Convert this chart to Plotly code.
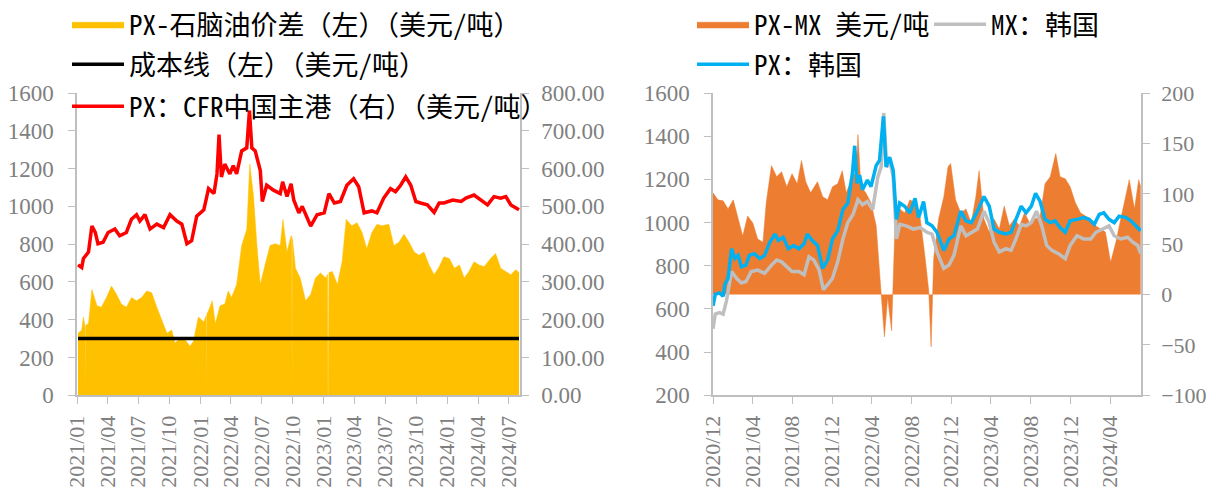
import plotly.graph_objects as go

# ---------------- Left panel data ----------------
spread_dates = ["2021-01-04","2021-01-15","2021-01-20","2021-01-25","2021-01-26","2021-01-27","2021-02-04","2021-02-14",
 "2021-03-01","2021-03-14","2021-03-29","2021-04-13","2021-04-28","2021-05-12","2021-05-27","2021-06-11","2021-06-26",
 "2021-07-11","2021-07-26","2021-08-10","2021-08-25","2021-09-09","2021-09-24","2021-10-08","2021-10-18","2021-11-02",
 "2021-11-17","2021-12-01","2021-12-11","2021-12-26","2022-01-11","2022-01-18","2022-01-19","2022-01-20","2022-01-25",
 "2022-02-05","2022-02-14","2022-02-28","2022-03-14","2022-03-24","2022-04-03","2022-04-18","2022-05-03","2022-05-18",
 "2022-05-27","2022-06-07","2022-06-17","2022-06-27","2022-07-11","2022-07-26","2022-08-10","2022-08-25","2022-09-02",
 "2022-09-14","2022-09-26","2022-09-28","2022-09-29","2022-09-30","2022-10-09","2022-10-23","2022-11-08","2022-11-23",
 "2022-12-07","2022-12-22","2023-01-07","2023-01-12","2023-01-13","2023-01-14","2023-01-16","2023-01-26","2023-02-10",
 "2023-02-24","2023-03-08","2023-03-25","2023-04-09","2023-04-24","2023-05-08","2023-05-23","2023-06-07","2023-06-22",
 "2023-07-12","2023-07-27","2023-08-11","2023-08-26","2023-09-10","2023-09-25","2023-10-09","2023-10-24","2023-11-08",
 "2023-11-23","2023-12-08","2023-12-22","2024-01-07","2024-01-22","2024-02-06","2024-02-20","2024-03-05","2024-03-20",
 "2024-04-04","2024-04-19","2024-05-08","2024-05-23","2024-06-07","2024-06-22","2024-07-07","2024-07-21","2024-07-31"]
spread_values = [328,345,414,360,0,370,380,560,
 474,466,517,578,534,483,466,517,500,
 517,552,543,466,397,328,345,276,302,
 293,259,284,414,388,420,0,430,448,
 500,379,474,483,552,517,586,793,879,
 1224,1052,793,586,690,793,802,793,931,
 759,845,840,0,830,672,621,500,534,
 621,647,621,640,0,0,650,655,586,
 707,931,897,914,862,776,862,905,897,
 905,793,810,853,810,759,741,759,690,
 638,681,733,724,672,690,621,655,707,
 690,681,724,750,672,655,638,664,650]

px_cfr_dates = ["2021-01-04","2021-01-15","2021-01-20","2021-02-04","2021-02-14","2021-02-24","2021-03-04","2021-03-19",
 "2021-04-03","2021-04-23","2021-05-07","2021-05-27","2021-06-11","2021-06-26","2021-07-06","2021-07-21","2021-08-05",
 "2021-08-25","2021-09-14","2021-10-03","2021-10-23","2021-11-07","2021-11-22","2021-12-06","2021-12-21","2022-01-11",
 "2022-01-25","2022-02-10","2022-02-19","2022-02-25","2022-03-04","2022-03-14","2022-03-29","2022-04-08","2022-04-18",
 "2022-05-03","2022-05-18","2022-05-26","2022-06-02","2022-06-12","2022-06-27","2022-07-03","2022-07-16","2022-08-05",
 "2022-08-25","2022-09-01","2022-09-14","2022-09-26","2022-10-04","2022-10-19","2022-10-29","2022-11-23","2022-12-12",
 "2023-01-02","2023-01-16","2023-02-01","2023-02-19","2023-03-10","2023-03-30","2023-04-14","2023-04-30","2023-05-23",
 "2023-06-07","2023-06-27","2023-07-17","2023-08-01","2023-08-16","2023-08-31","2023-09-15","2023-09-30","2023-10-14",
 "2023-11-03","2023-11-23","2023-12-08","2023-12-22","2024-01-17","2024-02-11","2024-02-25","2024-03-20","2024-04-09",
 "2024-04-29","2024-05-18","2024-06-07","2024-06-22","2024-07-07","2024-07-31"]
px_cfr_values = [345,338,362,379,448,431,401,405,
 431,440,422,431,466,478,461,478,440,
 453,444,478,461,453,401,409,474,491,
 547,534,586,690,578,612,586,608,586,
 647,655,754,655,647,595,513,556,543,
 534,565,526,560,517,483,500,448,478,
 483,534,509,513,556,573,552,483,488,
 483,522,547,539,556,578,556,513,509,
 504,484,509,509,517,513,522,530,517,
 504,526,522,526,504,491]

cost_dates = ["2021-01-04", "2024-07-31"]
cost_values = [300, 300]

# ---------------- Right panel data ----------------
px_kr_dates = ["2020-12-01","2020-12-08","2020-12-21","2021-01-01","2021-01-06","2021-01-16","2021-01-27","2021-02-06",
 "2021-02-16","2021-02-26","2021-03-12","2021-03-22","2021-04-07","2021-04-23","2021-05-08","2021-05-24","2021-06-09",
 "2021-06-19","2021-07-04","2021-07-20","2021-08-05","2021-08-21","2021-09-06","2021-09-16","2021-10-01","2021-10-17",
 "2021-11-02","2021-11-17","2021-12-02","2021-12-18","2022-01-03","2022-01-18","2022-02-01","2022-02-08","2022-02-15",
 "2022-02-23","2022-03-04","2022-03-19","2022-03-30","2022-04-15","2022-04-25","2022-05-07","2022-05-15","2022-05-26",
 "2022-06-06","2022-06-16","2022-06-26","2022-07-11","2022-07-27","2022-08-12","2022-08-23","2022-09-07","2022-09-17",
 "2022-10-03","2022-10-18","2022-11-08","2022-11-24","2022-12-09","2022-12-30","2023-01-15","2023-01-31","2023-02-19",
 "2023-03-11","2023-03-27","2023-04-11","2023-04-27","2023-05-17","2023-06-02","2023-06-17","2023-07-03","2023-07-18",
 "2023-08-03","2023-08-16","2023-08-30","2023-09-14","2023-09-30","2023-10-15","2023-10-30","2023-11-15","2023-11-30",
 "2023-12-21","2024-01-11","2024-01-27","2024-02-12","2024-02-27","2024-03-12","2024-03-28","2024-04-13","2024-04-28",
 "2024-05-19","2024-06-03","2024-06-19","2024-07-03"]
px_kr_values = [614,667,674,659,712,742,879,833,
 848,795,803,848,856,833,848,909,947,
 917,932,879,894,879,902,947,917,894,
 788,826,924,962,1061,1091,1227,1356,1182,
 1220,1152,1197,1167,1265,1288,1492,1258,1303,
 1242,1015,1091,1076,1045,1112,1023,1098,1000,
 985,955,871,924,939,1053,1008,1000,1053,
 1121,1076,970,955,947,955,1015,1076,1045,
 1076,1136,1098,1015,1000,1008,977,955,1008,
 1015,1023,1015,992,1038,1045,1015,1000,1030,
 1023,1008,985,962]

mx_kr_dates = ["2020-12-01","2020-12-08","2020-12-21","2021-01-01","2021-01-11","2021-01-27","2021-02-11","2021-02-26",
 "2021-03-12","2021-03-28","2021-04-17","2021-05-08","2021-05-29","2021-06-14","2021-06-29","2021-07-15","2021-07-31",
 "2021-08-21","2021-09-06","2021-09-21","2021-10-06","2021-10-22","2021-11-04","2021-11-17","2021-12-02","2021-12-18",
 "2022-01-03","2022-01-18","2022-02-03","2022-02-18","2022-03-04","2022-03-19","2022-04-04","2022-04-20","2022-04-30",
 "2022-05-08","2022-05-17","2022-05-28","2022-06-06","2022-06-16","2022-06-26","2022-07-16","2022-08-07","2022-08-28",
 "2022-09-17","2022-10-03","2022-10-18","2022-11-08","2022-11-24","2022-12-09","2022-12-30","2023-01-15","2023-01-31",
 "2023-02-19","2023-03-11","2023-03-27","2023-04-11","2023-04-27","2023-05-17","2023-06-02","2023-06-17","2023-07-03",
 "2023-07-18","2023-08-03","2023-08-19","2023-09-04","2023-09-19","2023-10-05","2023-10-25","2023-11-15","2023-11-30",
 "2023-12-21","2024-01-11","2024-02-01","2024-02-17","2024-03-07","2024-03-28","2024-04-13","2024-05-03","2024-05-24",
 "2024-06-09","2024-06-24","2024-07-03"]
mx_kr_values = [508,576,583,576,636,773,742,720,
 727,773,780,765,803,826,818,795,773,
 773,758,841,826,780,689,712,742,818,
 924,1000,1038,1106,1083,1098,1061,1212,1258,
 1508,1258,1280,1212,924,992,985,970,977,
 955,947,864,788,803,848,985,939,955,
 970,1053,1000,909,864,879,871,924,992,
 985,1000,1053,985,894,871,856,833,894,
 939,924,924,955,970,985,939,924,932,
 909,894,856]

pxmx_dates = ["2020-12-01","2020-12-16","2021-01-01","2021-01-16","2021-02-01","2021-02-16","2021-03-02","2021-03-17",
 "2021-04-02","2021-04-17","2021-05-03","2021-05-13","2021-05-29","2021-06-14","2021-06-29","2021-07-15","2021-07-31",
 "2021-08-16","2021-08-29","2021-09-11","2021-09-26","2021-10-17","2021-11-02","2021-11-17","2021-12-02","2021-12-18",
 "2022-01-01","2022-01-13","2022-01-29","2022-02-13","2022-02-18","2022-02-27","2022-03-14","2022-03-30","2022-04-15",
 "2022-04-25","2022-05-03","2022-05-10","2022-05-20","2022-06-01","2022-06-11","2022-06-26","2022-07-11","2022-07-27",
 "2022-08-12","2022-08-28","2022-09-12","2022-09-23","2022-09-30","2022-10-08","2022-10-23","2022-11-08","2022-11-21",
 "2022-11-29","2022-12-14","2022-12-30","2023-01-15","2023-01-31","2023-02-14","2023-02-24","2023-03-11","2023-03-27",
 "2023-04-11","2023-04-27","2023-05-12","2023-05-28","2023-06-12","2023-06-28","2023-07-13","2023-07-29","2023-08-14",
 "2023-08-30","2023-09-14","2023-09-30","2023-10-17","2023-10-30","2023-11-15","2023-11-30","2023-12-16","2024-01-01",
 "2024-01-16","2024-02-01","2024-02-17","2024-03-02","2024-03-17","2024-04-02","2024-04-18","2024-05-03","2024-05-19",
 "2024-05-29","2024-06-14","2024-06-27","2024-07-03"]
pxmx_values = [101,94,93,85,94,75,58,78,
 71,55,52,91,128,117,122,107,120,
 110,133,112,101,112,97,94,107,110,
 123,101,114,123,159,107,101,91,68,
 23,-16,-42,-3,-36,65,85,81,94,
 91,75,36,3,-52,36,75,97,127,
 130,94,81,85,71,97,123,75,62,
 75,65,88,68,75,68,81,71,75,
 78,110,117,140,117,115,107,91,81,
 78,75,68,65,62,32,52,75,97,
 114,85,114,107]

# ---------------- Styling ----------------
TICK_FONT = dict(family="Liberation Serif, Times New Roman, serif", size=23, color="#808080")
RTICK_FONT = dict(family="Liberation Serif, Times New Roman, serif", size=22, color="#808080")
XTICK_FONT = dict(family="Liberation Serif, Times New Roman, serif", size=22, color="#808080")
LEG_FONT = dict(family="Noto Sans Mono CJK SC, Noto Sans CJK SC, sans-serif", size=27, color="#000000")
AX_COLOR = "#BFBFBF"
W, H = 1210, 491

def px2x(p):
    return p / W

def px2y(p):
    return 1 - p / H

fig = go.Figure()

fig.add_trace(go.Scatter(x=spread_dates, y=spread_values, name="PX-石脑油价差（左）（美元/吨）",
                         mode="lines", fill="tozeroy", fillcolor="#FFC000",
                         line=dict(color="#FFC000", width=0.5), xaxis="x", yaxis="y", legend="legend"))
fig.add_trace(go.Scatter(x=cost_dates, y=cost_values, name="成本线（左）（美元/吨）",
                         mode="lines", line=dict(color="#000000", width=3.5),
                         xaxis="x", yaxis="y", legend="legend2"))
fig.add_trace(go.Scatter(x=px_cfr_dates, y=px_cfr_values, name="PX：CFR中国主港（右）（美元/吨）",
                         mode="lines", line=dict(color="#FF0000", width=3.5),
                         xaxis="x", yaxis="y2", legend="legend3"))

# right panel: area on the base (right-side) axis, lines on the overlaying left axis so they draw on top
fig.add_trace(go.Scatter(x=pxmx_dates, y=pxmx_values, name="PX-MX 美元/吨",
                         mode="lines", fill="tozeroy", fillcolor="#ED7D31",
                         line=dict(color="#ED7D31", width=0.5), xaxis="x2", yaxis="y3", legend="legend4"))
fig.add_trace(go.Scatter(x=mx_kr_dates, y=mx_kr_values, name="MX：韩国",
                         mode="lines", line=dict(color="#BFBFBF", width=3.5),
                         xaxis="x2", yaxis="y4", legend="legend5"))
fig.add_trace(go.Scatter(x=px_kr_dates, y=px_kr_values, name="PX：韩国",
                         mode="lines", line=dict(color="#00B0F0", width=3.5),
                         xaxis="x2", yaxis="y4", legend="legend6"))

ydom = [px2y(393), px2y(84)]
common_x = dict(type="date", tickformat="%Y/%m", tickangle=-90, ticks="outside", ticklen=7,
                tickcolor=AX_COLOR, showline=True, linecolor=AX_COLOR, linewidth=1.5,
                showgrid=False, zeroline=False, tickfont=XTICK_FONT, automargin=False,
                ticklabelstandoff=3)
common_y = dict(ticks="outside", ticklen=7, tickcolor=AX_COLOR, showline=True, linecolor=AX_COLOR,
                linewidth=1.5, showgrid=False, zeroline=False, automargin=False)

leg_common = dict(bgcolor="rgba(0,0,0,0)", font=LEG_FONT, xanchor="left", yanchor="middle",
                  itemwidth=52, orientation="v", tracegroupgap=0)

fig.update_layout(
    width=W, height=H,
    margin=dict(l=0, r=0, t=0, b=0),
    paper_bgcolor="white", plot_bgcolor="white",
    showlegend=True,
    xaxis=dict(domain=[px2x(77), px2x(520)], anchor="y",
               range=["2021-01-01", "2024-08-03"], tick0="2021-01-01", dtick="M3", **common_x),
    yaxis=dict(domain=ydom, anchor="x", range=[0, 1600], dtick=200, tickfont=TICK_FONT,
               ticklabelstandoff=10, **common_y),
    yaxis2=dict(overlaying="y", side="right", anchor="x", range=[0, 800], dtick=100,
                tickformat=".2f", tickfont=TICK_FONT, ticklabelstandoff=8, **common_y),
    xaxis2=dict(domain=[px2x(713), px2x(1141)], anchor="y3",
                range=["2020-12-01", "2024-07-04"], tick0="2020-12-01", dtick="M4", **common_x),
    yaxis3=dict(domain=ydom, anchor="x2", side="right", range=[-100, 200], dtick=50,
                tickfont=RTICK_FONT, ticklabelstandoff=7, **common_y),
    yaxis4=dict(overlaying="y3", side="left", anchor="x2", range=[200, 1600], dtick=200,
                tickfont=TICK_FONT, ticklabelstandoff=10, **common_y),
    legend=dict(x=px2x(67), y=px2y(14), **leg_common),
    legend2=dict(x=px2x(67), y=px2y(55), **leg_common),
    legend3=dict(x=px2x(67), y=px2y(98), **leg_common),
    legend4=dict(x=px2x(692), y=px2y(14), **leg_common),
    legend5=dict(x=px2x(929), y=px2y(14), **leg_common),
    legend6=dict(x=px2x(692), y=px2y(55), **leg_common),
)

fig.write_html("out.html", config={"displayModeBar": False},
               post_script="document.body.style.margin='0';document.body.style.padding='0';")
